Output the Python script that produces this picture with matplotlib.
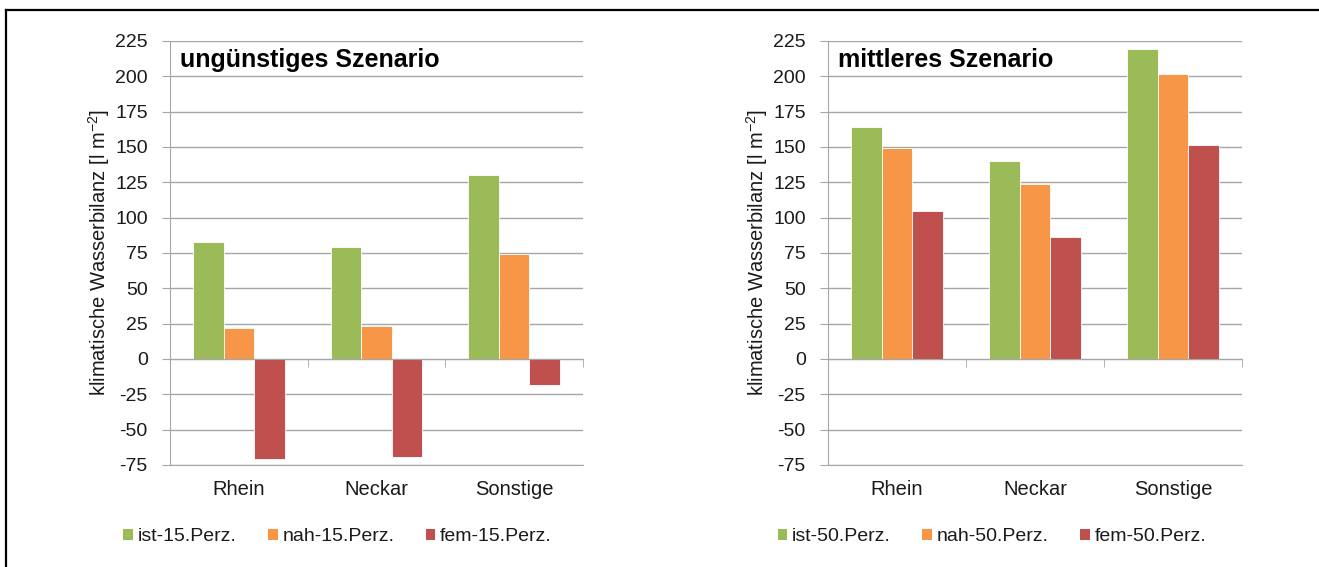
import numpy as np
import matplotlib
matplotlib.use("Agg")
import matplotlib.pyplot as plt
from matplotlib.patches import Patch
from matplotlib.lines import Line2D

plt.rcParams['font.family'] = ['Liberation Sans', 'DejaVu Sans']
plt.rcParams['axes.unicode_minus'] = False

regions = ['Rhein', 'Neckar', 'Sonstige']
yticks = [-75, -50, -25, 0, 25, 50, 75, 100, 125, 150, 175, 200, 225]

# ungünstiges Szenario (15. Perzentil)
ist_15 = [83, 79, 130]
nah_15 = [22, 23.5, 74.5]
fem_15 = [-71, -69, -18.5]

# mittleres Szenario (50. Perzentil)
ist_50 = [164.5, 140, 219]
nah_50 = [149, 123.5, 202]
fem_50 = [105, 86, 151.5]

colors = ['#9BBB59', '#F79646', '#C0504D']
grid_c = '#A6A6A6'
text_c = '#1a1a1a'

fig = plt.figure(figsize=(13.19, 5.67), dpi=100)

def panel(rect, series, labels, title, leg_x):
    ax = fig.add_axes(rect)
    x = np.arange(len(regions))
    w = 0.2222
    for i, (vals, c) in enumerate(zip(series, colors)):
        ax.bar(x + (i - 1) * w, vals, width=w, color=c, edgecolor='white',
               linewidth=0.6, zorder=3)
    ax.set_xlim(-0.5, 2.5)
    ax.set_ylim(-75, 225)
    ax.set_yticks(yticks)
    ax.yaxis.grid(True, color=grid_c, linewidth=1.0, zorder=0)
    ax.tick_params(axis='y', length=6, color=grid_c, labelsize=14,
                   labelcolor=text_c, pad=10)
    ax.spines['right'].set_visible(False)
    ax.spines['left'].set_color(grid_c)
    ax.spines['bottom'].set_color(grid_c)
    # category axis drawn at zero, ticks between categories
    ax.spines['top'].set_position(('data', 0))
    ax.spines['top'].set_color(grid_c)
    ax.spines['top'].set_zorder(4)
    ax.xaxis.set_ticks_position('both')
    ax.set_xticks(x)
    ax.set_xticklabels(regions)
    ax.set_xticks([0.5, 1.5, 2.5], minor=True)
    ax.tick_params(axis='x', which='major', length=0, labelsize=14.5,
                   labelcolor=text_c, pad=11, top=False, labeltop=False)
    ax.tick_params(axis='x', which='minor', bottom=False, top=True,
                   direction='in', length=6, color=grid_c)
    ax.set_ylabel('klimatische Wasserbilanz [l m$^{\\mathregular{-2}}$]',
                  fontsize=14.5, color=text_c)
    ax.yaxis.set_label_coords(-0.14, 0.5)
    ax.text(0.024, 0.955, title, transform=ax.transAxes, fontsize=18,
            fontweight='bold', color='black', va='center', ha='left')
    handles = [Patch(facecolor=c, edgecolor='none') for c in colors]
    fig.legend(handles, labels, loc='center', bbox_to_anchor=(leg_x, 0.053),
               ncol=3, frameon=False, fontsize=14, handlelength=0.5,
               handleheight=0.5, handletextpad=0.25, columnspacing=1.6,
               labelcolor=text_c)
    return ax

panel([0.1289, 0.1799, 0.3131, 0.7478], [ist_15, nah_15, fem_15],
      ['ist-15.Perz.', 'nah-15.Perz.', 'fem-15.Perz.'],
      'ungünstiges Szenario', 0.256)
panel([0.6277, 0.1799, 0.3139, 0.7478], [ist_50, nah_50, fem_50],
      ['ist-50.Perz.', 'nah-50.Perz.', 'fem-50.Perz.'],
      'mittleres Szenario', 0.752)

# frame lines at top and left edge
fig.add_artist(Line2D([0.0045, 1.0], [0.9815, 0.9815], color='black', lw=1.6,
                      transform=fig.transFigure))
fig.add_artist(Line2D([0.0045, 0.0045], [0.0, 0.9815], color='black', lw=1.6,
                      transform=fig.transFigure))

fig.savefig('out.png', dpi=100)
